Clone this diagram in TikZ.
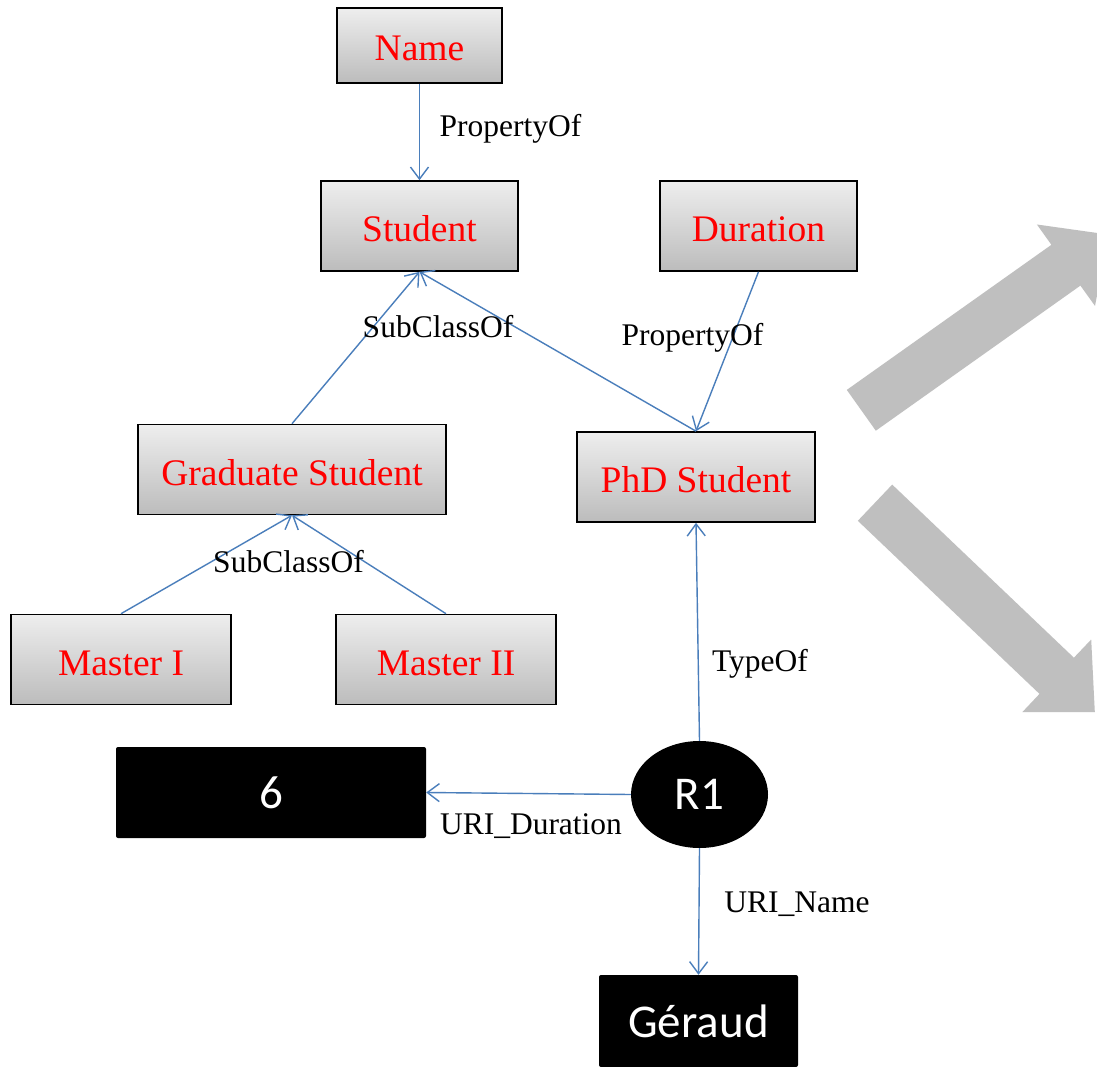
\documentclass[tikz,border=0pt]{standalone}
\usepackage{fontspec}
\setmainfont{Liberation Serif}
\newfontfamily\calibfont{Carlito}
\usetikzlibrary{arrows.meta,shapes.geometric}
\definecolor{edgeblue}{RGB}{74,126,187}
\definecolor{biggray}{RGB}{191,191,191}
\definecolor{boxtop}{RGB}{238,238,238}
\definecolor{boxbot}{RGB}{188,188,188}
\begin{document}
\begin{tikzpicture}[x=1pt,y=-1pt,
  classbox/.style={draw=black, line width=1.6pt, top color=boxtop, bottom color=boxbot,
    text=red, font=\fontsize{37.5}{40}\selectfont, minimum height=90pt, inner sep=0pt,
    text height=31pt, text depth=0pt},
  valbox/.style={fill=black, rounded corners=2pt, text=white,
    font=\calibfont\fontsize{47}{50}\selectfont, minimum height=91pt, inner sep=0pt},
  relnode/.style={ellipse, fill=black, text=white, font=\calibfont\fontsize{47}{50}\selectfont,
    minimum width=137pt, minimum height=107pt, inner sep=0pt},
  rel/.style={draw=edgeblue, line width=1.4pt, -{Straight Barb[length=12pt,width=18pt,line width=1.4pt]}},
  edgelabel/.style={font=\fontsize{31.5}{34}\selectfont, text=black, inner sep=0pt},
  bigarrow/.style={fill=biggray, draw=none}]
\useasboundingbox (0,0) rectangle (1097,1067);
\fill[white] (0,0) rectangle (1097,1067);

% big grey arrows
\begin{scope}
\clip (0,0) rectangle (1097,1067);
\fill[bigarrow] (846.8,389.9) -- (1051.4,244.8) -- (1036.9,224.5) -- (1108.7,234.6)
  -- (1095.0,305.9) -- (1080.4,285.6) -- (875.8,430.7) -- cycle;
\fill[bigarrow] (892.2,484.6) -- (1073.9,657.7) -- (1091.2,639.5) -- (1094.8,712.0)
  -- (1022.3,712.1) -- (1039.5,693.9) -- (857.8,520.8) -- cycle;
\end{scope}

% class boxes
\node[classbox, minimum width=165pt, minimum height=75pt] (name) at (419.5,45.5) {Name};
\node[classbox, minimum width=197pt] (student) at (419.5,226) {Student};
\node[classbox, minimum width=197pt] (duration) at (758.5,226) {Duration};
\node[classbox, minimum width=308pt] (grad) at (292,469.5) {Graduate Student};
\node[classbox, minimum width=238pt] (phd) at (696,477) {PhD Student};
\node[classbox, minimum width=220pt] (m1) at (121,659.5) {Master I};
\node[classbox, minimum width=220pt] (m2) at (446,659.5) {Master II};

% instance nodes
\node[valbox, minimum width=310pt] (six) at (271,792.5) {6};
\node[relnode] (r1) at (699.5,794.5) {R1};
\node[valbox, minimum width=199pt, minimum height=92pt] (geraud) at (698.5,1021) {Géraud};

% connectors
\draw[rel] (name.south) -- (student.north);
\draw[rel] (grad.north) -- (student.south);
\draw[rel] (phd.north) -- (student.south);
\draw[rel] (duration.south) -- (phd.north);
\draw[rel] (m1.north) -- (grad.south);
\draw[rel] (m2.north) -- (grad.south);
\draw[rel] (r1.north) -- (phd.south);
\draw[rel] (r1.west) -- (six.east);
\draw[rel] (r1.south) -- (geraud.north);

% labels
\node[edgelabel] (l1) at (510.5,129) {PropertyOf};
\node[edgelabel] (l2) at (438,327) {SubClassOf};
\node[edgelabel] (l3) at (692.5,338) {PropertyOf};
\node[edgelabel] (l4) at (288.5,562) {SubClassOf};
\node[edgelabel] (l5) at (760,664) {TypeOf};
\node[edgelabel] (l6) at (531,826) {URI\_Duration};
\node[edgelabel] (l7) at (797,904) {URI\_Name};
\end{tikzpicture}
\end{document}
